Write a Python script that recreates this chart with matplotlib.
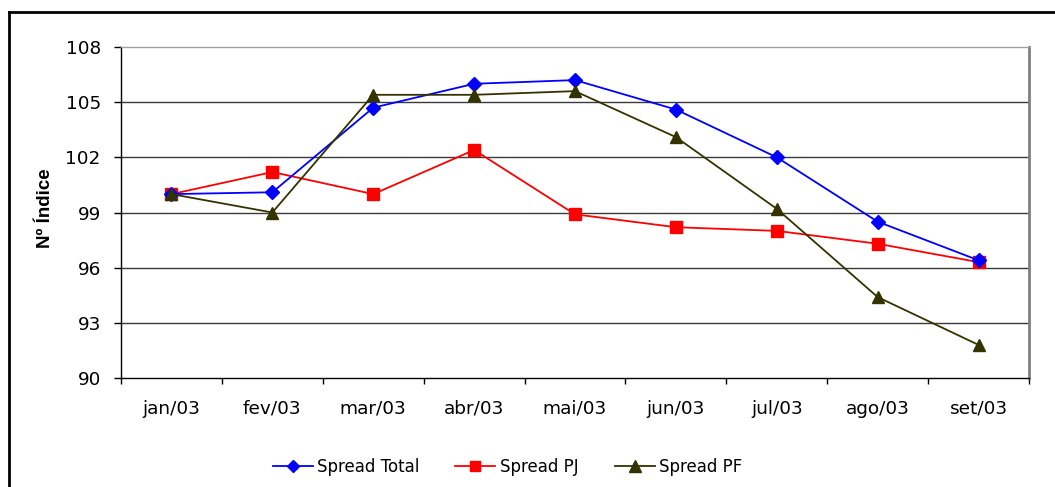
import matplotlib
matplotlib.use("Agg")
import matplotlib.pyplot as plt
from matplotlib.lines import Line2D

plt.rcParams['font.family'] = ['DejaVu Sans']

months = ["jan/03", "fev/03", "mar/03", "abr/03", "mai/03", "jun/03", "jul/03", "ago/03", "set/03"]
spread_total = [100.0, 100.1, 104.7, 106.0, 106.2, 104.6, 102.0, 98.5, 96.4]
spread_pj = [100.0, 101.2, 100.0, 102.4, 98.9, 98.2, 98.0, 97.3, 96.3]
spread_pf = [100.0, 99.0, 105.4, 105.4, 105.6, 103.1, 99.2, 94.4, 91.8]
y_ticks = [90, 93, 96, 99, 102, 105, 108]

FS = 13.3

fig = plt.figure(figsize=(10.55, 4.87), dpi=100)
ax = fig.add_axes([121/1055, 1 - 378/487, (1029 - 121)/1055, (378 - 47)/487])

x = list(range(len(months)))
l1, = ax.plot(x, spread_total, color="#0000FF", lw=1.3, marker="D", ms=7,
              mfc="#0000FF", mec="#0000FF", label="Spread Total", zorder=4)
l2, = ax.plot(x, spread_pj, color="#FF0000", lw=1.3, marker="s", ms=8,
              mfc="#FF0000", mec="#FF0000", label="Spread PJ", zorder=3)
l3, = ax.plot(x, spread_pf, color="#333300", lw=1.3, marker="^", ms=9,
              mfc="#333300", mec="#333300", label="Spread PF", zorder=5)

ax.set_xlim(-0.5, len(months) - 0.5)
ax.set_ylim(90, 108)
ax.set_yticks(y_ticks)
ax.set_yticklabels([str(v) for v in y_ticks], fontsize=FS)
ax.set_xticks(x)
ax.set_xticklabels(months, fontsize=FS)
ax.set_xticks([i - 0.5 for i in range(len(months) + 1)], minor=True)
ax.tick_params(axis="x", which="major", length=0, pad=15.5)
ax.tick_params(axis="x", which="minor", length=4.5, width=1, color="#000000", direction="out")
ax.tick_params(axis="y", which="major", length=5, width=1, direction="out", pad=9.5)

for v in y_ticks[1:-1]:
    ax.axhline(v, color="#3a3a3a", lw=1.0, zorder=1)

ax.spines["left"].set_color("#000000")
ax.spines["left"].set_linewidth(1.0)
ax.spines["bottom"].set_color("#000000")
ax.spines["bottom"].set_linewidth(1.0)
ax.spines["top"].set_color("#a0a0a0")
ax.spines["top"].set_linewidth(1.0)
ax.spines["right"].set_color("#808080")
ax.spines["right"].set_linewidth(2.0)

fig.text(46/1055, 1 - 208/487, "Nº Índice", rotation=90, fontsize=13.5, fontweight="bold",
         ha="center", va="center", family=["Liberation Sans", "DejaVu Sans"])

fig.legend(handles=[l1, l2, l3], loc="center", bbox_to_anchor=(507.5/1055, 1 - 467/487),
           ncol=3, frameon=False, fontsize=12, handlelength=2.4, columnspacing=2.15,
           handletextpad=0.28, markerscale=0.9)

# chart-area border
fig.add_artist(Line2D([9/1055, 1.0], [1 - 12/487, 1 - 12/487], color="black", lw=2,
                      transform=fig.transFigure))
fig.add_artist(Line2D([9/1055, 9/1055], [0.0, 1 - 12/487], color="black", lw=2,
                      transform=fig.transFigure))

fig.savefig("out.png", dpi=100)
